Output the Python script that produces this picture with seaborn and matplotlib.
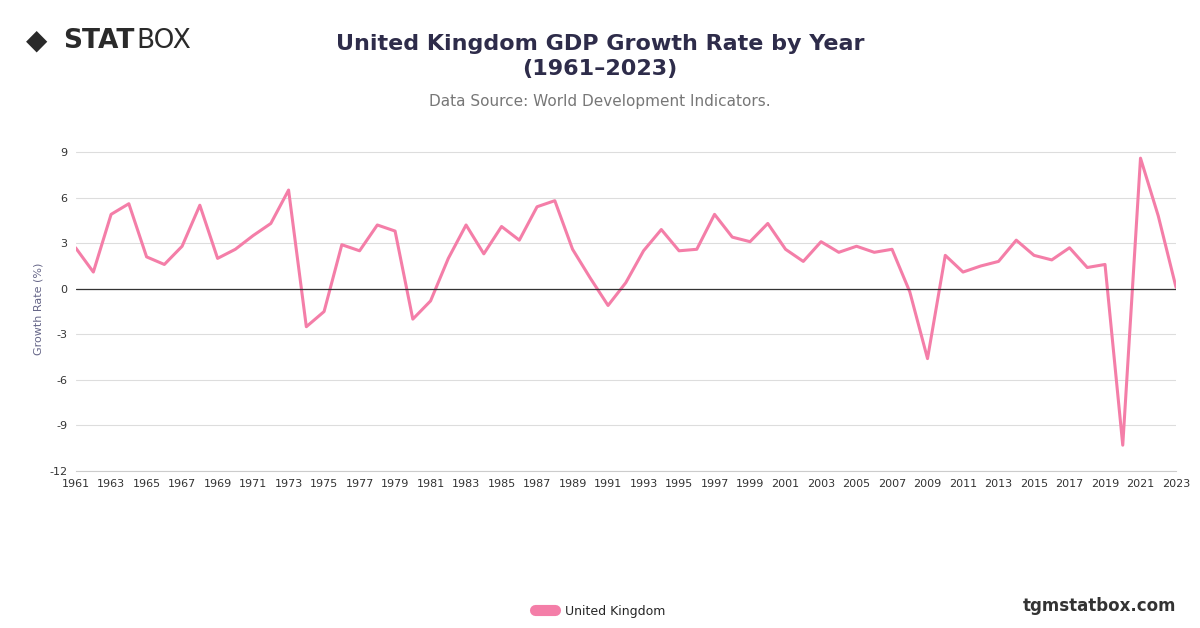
import matplotlib
matplotlib.use("Agg")
import matplotlib.pyplot as plt
import seaborn as sns
import pandas as pd

years = list(range(1961, 2024))
growth = [2.7, 1.1, 4.9, 5.6, 2.1, 1.6, 2.8, 5.5, 2.0, 2.6,
          3.5, 4.3, 6.5, -2.5, -1.5, 2.9, 2.5, 4.2, 3.8, -2.0,
          -0.8, 2.0, 4.2, 2.3, 4.1, 3.2, 5.4, 5.8, 2.6, 0.7,
          -1.1, 0.4, 2.5, 3.9, 2.5, 2.6, 4.9, 3.4, 3.1, 4.3,
          2.6, 1.8, 3.1, 2.4, 2.8, 2.4, 2.6, -0.2, -4.6, 2.2,
          1.1, 1.5, 1.8, 3.2, 2.2, 1.9, 2.7, 1.4, 1.6, -10.3,
          8.6, 4.8, 0.1]
y_ticks = [9, 6, 3, 0, -3, -6, -9, -12]
line_color = "#f47ea8"

df = pd.DataFrame({"Year": years, "Growth": growth})

sns.set_style("white")
plt.rcParams['font.family'] = ['DejaVu Sans']
plt.rcParams['axes.unicode_minus'] = False
fig = plt.figure(figsize=(12, 6.28), dpi=100)
ax = fig.add_axes([0.063, 0.25, 0.917, 0.5175])

sns.lineplot(data=df, x="Year", y="Growth", ax=ax, color=line_color, linewidth=2.2)
ax.axhline(0, color="#333333", linewidth=0.9)

ax.set_xlim(1961, 2023)
ax.set_ylim(-12, 9.4)
ax.set_yticks(y_ticks)
ax.set_xticks(years[::2])
ax.tick_params(axis="both", labelsize=8, colors="#333333", length=0, pad=6)
ax.yaxis.grid(True, color="#dddddd", linewidth=0.8)
for s in ["top", "right", "left"]:
    ax.spines[s].set_visible(False)
ax.spines["bottom"].set_color("#cccccc")
ax.set_xlabel("")
ax.set_ylabel("Growth Rate (%)", fontsize=8, color="#666688")

fig.text(0.5, 0.91, "United Kingdom GDP Growth Rate by Year\n(1961–2023)",
         ha="center", va="center", fontsize=16, fontweight="bold", color="#2e2c4a",
         linespacing=1.35)
fig.text(0.5, 0.838, "Data Source: World Development Indicators.", ha="center",
         va="center", fontsize=11, color="#777777")
fig.text(0.022, 0.935, "◆", fontsize=20, color="#2a2a2a", va="center")
fig.text(0.053, 0.935, "STAT", fontsize=19, fontweight="bold", color="#2a2a2a", va="center")
fig.text(0.114, 0.935, "BOX", fontsize=19, color="#2a2a2a", va="center")

ax.plot([], [], color=line_color, linewidth=8)
fig.legend([ax.lines[-1]], ["United Kingdom"], loc="center",
           bbox_to_anchor=(0.5, 0.027), frameon=False, fontsize=9, handlelength=1.6)
fig.text(0.98, 0.035, "tgmstatbox.com", ha="right", va="center", fontsize=12,
         fontweight="bold", color="#333333")

fig.savefig("out.png", dpi=100)
